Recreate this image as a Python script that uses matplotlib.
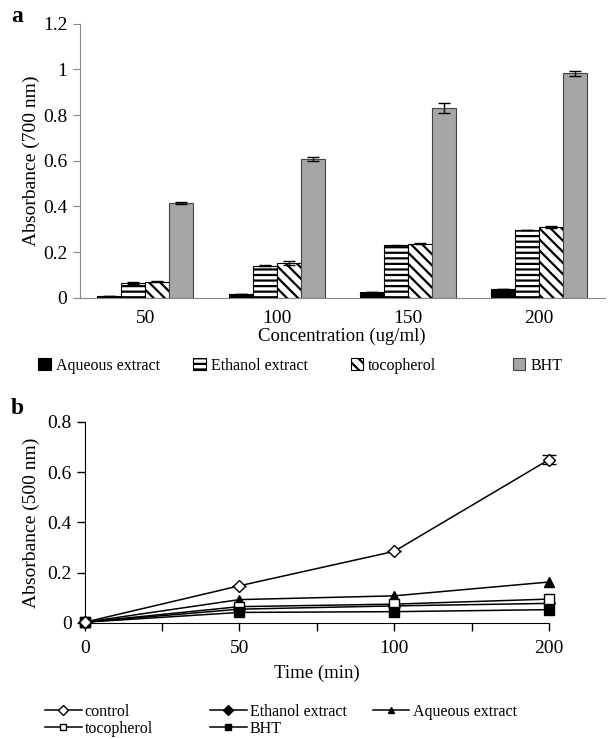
import matplotlib
matplotlib.use("Agg")
import matplotlib.pyplot as plt
import numpy as np
from matplotlib.patches import Patch
from matplotlib.lines import Line2D

plt.rcParams['font.family'] = ['Liberation Serif', 'DejaVu Serif']
plt.rcParams['hatch.linewidth'] = 1.6

# Panel a data
conc_labels = ['50', '100', '150', '200']
aqueous_a = [0.010, 0.015, 0.025, 0.038]
ethanol_a = [0.065, 0.140, 0.230, 0.297]
tocoph_a = [0.070, 0.152, 0.237, 0.310]
bht_a = [0.415, 0.608, 0.832, 0.982]
aqueous_a_err = [0.0, 0.0, 0.0, 0.0]
ethanol_a_err = [0.003, 0.002, 0.002, 0.002]
tocoph_a_err = [0.002, 0.010, 0.002, 0.003]
bht_a_err = [0.004, 0.010, 0.022, 0.010]
series_a_names = ['Aqueous extract', 'Ethanol extract', 'tocopherol', 'BHT']

# Panel b data
time_labels = ['0', '50', '100', '200']
control_b = [0.003, 0.148, 0.285, 0.650]
control_b_err = [0.0, 0.0, 0.0, 0.018]
ethanol_b = [0.003, 0.055, 0.068, 0.078]
aqueous_b = [0.003, 0.093, 0.108, 0.163]
tocoph_b = [0.003, 0.065, 0.075, 0.095]
bht_b = [0.003, 0.042, 0.045, 0.053]

fig = plt.figure(figsize=(6.14, 7.39), dpi=100)

# ---------- Panel a ----------
axa = fig.add_axes([0.130, 0.597, 0.855, 0.371])
x = np.arange(len(conc_labels)) + 0.5
w = 0.183
styles = [
    dict(facecolor='black', edgecolor='black', hatch=None),
    dict(facecolor='white', edgecolor='black', hatch='---'),
    dict(facecolor='white', edgecolor='black', hatch='\\\\\\'),
    dict(facecolor='#a6a6a6', edgecolor='#444444', hatch=None),
]
vals = [aqueous_a, ethanol_a, tocoph_a, bht_a]
errs = [aqueous_a_err, ethanol_a_err, tocoph_a_err, bht_a_err]
for i, (v, e, st) in enumerate(zip(vals, errs, styles)):
    pos = x + (i - 1.5) * w
    axa.bar(pos, v, width=w, linewidth=0.8, **st)
    axa.errorbar(pos, v, yerr=e, fmt='none', ecolor='black', elinewidth=1.0,
                 capsize=4, capthick=1.0)
axa.set_xlim(0, 4)
axa.set_ylim(0, 1.2)
axa.set_yticks([0, 0.2, 0.4, 0.6, 0.8, 1.0, 1.2])
axa.set_yticklabels(['0', '0.2', '0.4', '0.6', '0.8', '1', '1.2'])
axa.set_xticks(x)
axa.set_xticklabels(conc_labels)
axa.tick_params(axis='x', length=0, labelsize=14, pad=9)
axa.tick_params(axis='y', length=5, color='#888888', labelsize=14, pad=4)
for s in ['top', 'right']:
    axa.spines[s].set_visible(False)
axa.spines['left'].set_color('#888888')
axa.spines['bottom'].set_color('#888888')
axa.set_ylabel('Absorbance (700 nm)', fontsize=14, labelpad=2)
axa.set_xlabel('Concentration (ug/ml)', fontsize=13.5, labelpad=0)

fig.text(0.018, 0.978, 'a', fontsize=17, fontweight='bold', va='center')

leg_x = [0.062, 0.315, 0.571, 0.835]
for i, name in enumerate(series_a_names):
    st = styles[i]
    h = Patch(facecolor=st['facecolor'], edgecolor=st['edgecolor'],
              hatch=st['hatch'], linewidth=0.8)
    fig.legend([h], [name], loc='center left', bbox_to_anchor=(leg_x[i], 0.505),
               frameon=False, fontsize=11.5, handlelength=0.8, handleheight=0.8,
               handletextpad=0.3, borderpad=0, borderaxespad=0)

# ---------- Panel b ----------
axb = fig.add_axes([0.138, 0.157, 0.756, 0.272])
xb = np.arange(len(time_labels))
lk = dict(color='black', linewidth=1.1, markersize=6.5, markeredgecolor='black',
          markeredgewidth=1.0)
axb.errorbar(xb, control_b, yerr=control_b_err, marker='D', markerfacecolor='white',
             capsize=5, elinewidth=1.0, capthick=1.0, markersize=6, color='black',
             linewidth=1.1, markeredgecolor='black', zorder=5)
axb.plot(xb, ethanol_b, marker='D', markerfacecolor='black', **{**lk, 'markersize': 6})
axb.plot(xb, aqueous_b, marker='^', markerfacecolor='black', **lk)
axb.plot(xb, tocoph_b, marker='s', markerfacecolor='white', **lk)
axb.plot(xb, bht_b, marker='s', markerfacecolor='black', **lk)
axb.set_xlim(0, 3)
axb.set_ylim(0, 0.8)
axb.set_yticks([0, 0.2, 0.4, 0.6, 0.8])
axb.set_yticklabels(['0', '0.2', '0.4', '0.6', '0.8'])
axb.set_xticks(xb)
axb.set_xticklabels(time_labels)
axb.set_xticks([0.5, 1.5, 2.5], minor=True)
axb.tick_params(axis='both', which='major', length=6, labelsize=14, width=1.0)
axb.tick_params(axis='x', which='minor', length=6, width=1.0)
axb.tick_params(axis='x', pad=6)
for s in ['top', 'right']:
    axb.spines[s].set_visible(False)
axb.set_ylabel('Absorbance (500 nm)', fontsize=14, labelpad=5)
axb.set_xlabel('Time (min)', fontsize=13.5, labelpad=6)
for ln in axb.lines:
    ln.set_clip_on(False)

fig.text(0.018, 0.447, 'b', fontsize=17, fontweight='bold', va='center')

names_b = ['control', 'Ethanol extract', 'Aqueous extract', 'tocopherol', 'BHT']
mk_b = [('D', 'white'), ('D', 'black'), ('^', 'black'), ('s', 'white'), ('s', 'black')]
pos_b = [(0.073, 0.037), (0.342, 0.037), (0.607, 0.037), (0.073, 0.014), (0.342, 0.014)]
for name, (m, fc), (px, py) in zip(names_b, mk_b, pos_b):
    h = Line2D([], [], color='black', linewidth=1.1, marker=m, markerfacecolor=fc,
               markeredgecolor='black', markersize=5)
    fig.legend([h], [name], loc='center left', bbox_to_anchor=(px, py),
               frameon=False, fontsize=11.5, handlelength=2.3,
               handletextpad=0.2, borderpad=0, borderaxespad=0)

fig.savefig('out.png', dpi=100)
